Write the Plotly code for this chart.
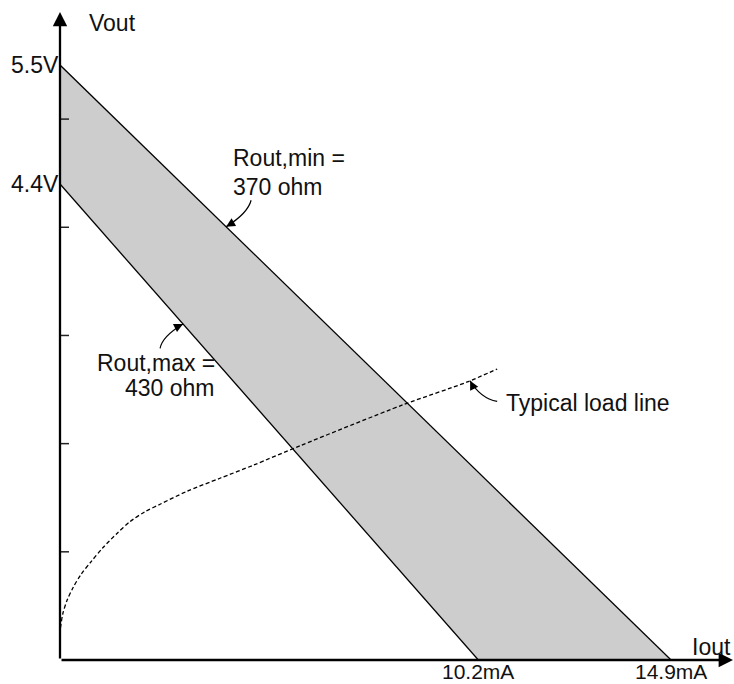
import numpy as np
import plotly.graph_objects as go

# Output characteristic limits (Iout in mA, Vout in V)
v_open_max = 5.5      # V, Rout,min line
v_open_min = 4.4      # V, Rout,max line
i_short_min = 10.2    # mA, Rout,max line
i_short_max = 14.9    # mA, Rout,min line
rout_min_label = "Rout,min ="
rout_min_value = "370 ohm"
rout_max_label = "Rout,max ="
rout_max_value = "430 ohm"

# Typical load line (sketched)
load_I = [0.00, 0.02, 0.07, 0.17, 0.32, 0.51, 0.76, 1.05, 1.39, 1.71, 2.07,
          2.44, 3.10, 3.90, 4.71, 5.85, 8.37, 9.93, 10.66]
load_V = [0.24, 0.32, 0.43, 0.55, 0.67, 0.79, 0.91, 1.04, 1.17, 1.28, 1.37,
          1.44, 1.56, 1.68, 1.80, 1.98, 2.36, 2.57, 2.69]

y_ticks = [1, 2, 3, 4, 5]

X_MAX = 16.41
Y_MAX = 5.99

TEXT = "#111111"
FONT = dict(family="Liberation Sans, Arial, sans-serif", size=23, color=TEXT)


def v_on(i, v0, i0):
    """Vout on a straight output line through (0, v0) and (i0, 0)."""
    return v0 * (1 - i / i0)


fig = go.Figure()

# Shaded region between the two output lines
fig.add_trace(go.Scatter(
    x=[0, i_short_max, i_short_min, 0, 0],
    y=[v_open_max, 0, 0, v_open_min, v_open_max],
    fill="toself", fillcolor="#cdcdcd", mode="none", hoverinfo="skip",
))
fig.add_trace(go.Scatter(x=[0, i_short_max], y=[v_open_max, 0], mode="lines",
                         line=dict(color="black", width=1.3), hoverinfo="skip"))
fig.add_trace(go.Scatter(x=[0, i_short_min], y=[v_open_min, 0], mode="lines",
                         line=dict(color="black", width=1.3), hoverinfo="skip"))

# Load line
fig.add_trace(go.Scatter(x=load_I, y=load_V, mode="lines",
                         line=dict(color="black", width=1.3, dash="4px,2.5px",
                                   shape="spline", smoothing=0.8),
                         hoverinfo="skip"))

shapes = []
# Tick marks crossing the Vout axis
for t in y_ticks:
    shapes.append(dict(type="line", xref="x", yref="y", xsizemode="pixel",
                       xanchor=0, x0=-8, x1=9, y0=t, y1=t,
                       line=dict(color="#222222", width=1.5)))

# Curved leaders
tip_min_I = 4.05
tip_min_V = v_on(tip_min_I, v_open_max, i_short_max)
tip_max_I = 3.0
tip_max_V = v_on(tip_max_I, v_open_min, i_short_min)
tip_load_I = 10.0
tip_load_V = float(np.interp(tip_load_I, load_I, load_V))

leaders = [
    ((4.66, 4.25), (4.58, 4.13), (tip_min_I, tip_min_V), 8.6, -5.1),
    ((2.44, 2.88), (2.49, 2.99), (tip_max_I, tip_max_V), -9.0, 4.5),
    ((10.66, 2.39), (10.25, 2.42), (tip_load_I, tip_load_V), 4.5, 9.0),
]
annotations = []
for (s, c, e, ax, ay) in leaders:
    shapes.append(dict(type="path", xref="x", yref="y",
                       path=f"M {s[0]},{s[1]} Q {c[0]},{c[1]} {e[0]},{e[1]}",
                       line=dict(color="black", width=1.2)))
    annotations.append(dict(x=e[0], y=e[1], ax=ax, ay=ay, xref="x", yref="y",
                            text="", showarrow=True, arrowhead=2, arrowsize=1.5,
                            arrowwidth=1.2, arrowcolor="black", standoff=0))

# Axes with arrowheads
annotations.append(dict(x=X_MAX, y=0, ax=0, ay=0, xref="x", yref="y",
                        axref="x", ayref="y", text="", showarrow=True,
                        arrowhead=2, arrowsize=1.25, arrowwidth=2.3,
                        arrowcolor="black", standoff=0))
annotations.append(dict(x=0, y=Y_MAX, ax=0, ay=0, xref="x", yref="y",
                        axref="x", ayref="y", text="", showarrow=True,
                        arrowhead=2, arrowsize=1.25, arrowwidth=2.3,
                        arrowcolor="black", standoff=0))


def label(text, x, y, xanchor="center", yanchor="middle", xshift=0,
          yref="y", yshift=0, size=23, borderpad=1):
    annotations.append(dict(text=text, x=x, y=y, xref="x", yref=yref,
                            xanchor=xanchor, yanchor=yanchor, xshift=xshift,
                            yshift=yshift, showarrow=False, borderpad=borderpad,
                            font=dict(FONT, size=size)))


label("Vout", 0.66, 5.89, xanchor="left")
label("Iout", X_MAX, 0.12, xanchor="right")
label(f"{v_open_max}V", 0, v_open_max, xanchor="right", xshift=1)
label(f"{v_open_min}V", 0, v_open_min, xanchor="right", xshift=1)
label(f"{i_short_min}mA", i_short_min, 0, yref="paper", yanchor="top",
      yshift=1, size=21, borderpad=0)
label(f"{i_short_max}mA", i_short_max, 0, yref="paper", yanchor="top",
      yshift=1, size=21, borderpad=0)
label(rout_min_label, 4.17, 4.64, xanchor="left")
label(rout_min_value, 4.17, 4.37, xanchor="left")
label(rout_max_label, 3.83, 2.75, xanchor="right")
label(rout_max_value, 3.83, 2.51, xanchor="right")
label("Typical load line", 10.83, 2.38, xanchor="left")

fig.update_layout(
    width=734, height=684,
    margin=dict(l=60, r=1, t=12, b=24, autoexpand=False),
    paper_bgcolor="white", plot_bgcolor="white",
    showlegend=False,
    xaxis=dict(range=[0, X_MAX], visible=False, fixedrange=True),
    yaxis=dict(range=[0, Y_MAX], visible=False, fixedrange=True),
    shapes=shapes, annotations=annotations,
)

fig.write_html("out.html")
